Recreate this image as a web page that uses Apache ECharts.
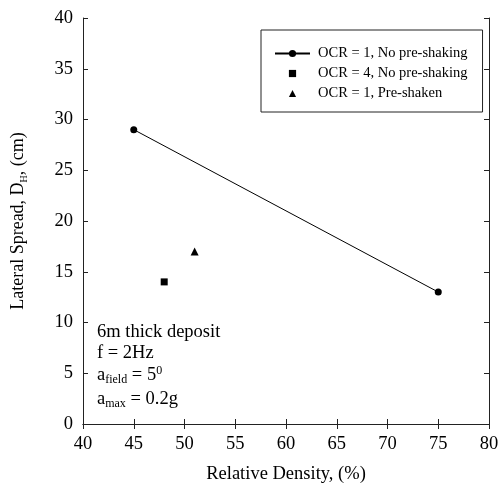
<!DOCTYPE html>
<html>
<head>
<meta charset="utf-8">
<script src="https://cdn.jsdelivr.net/npm/echarts@6/dist/echarts.min.js"></script>
<style>
  html, body { margin: 0; padding: 0; background: #fff; }
  #chart { width: 503px; height: 495px; }
</style>
</head>
<body>
<div id="chart"></div>
<script>
// 数据
const seriesNames = ['OCR = 1, No pre-shaking', 'OCR = 4, No pre-shaking', 'OCR = 1, Pre-shaken']
const ocr1NoShake = [[45, 29], [75, 13]]
const ocr4NoShake = [[48, 14]]
const ocr1Shaken = [[51, 17]]
const xTicks = [40, 45, 50, 55, 60, 65, 70, 75, 80]
const yTicks = [0, 5, 10, 15, 20, 25, 30, 35, 40]

const serif = 'Liberation Serif, Times New Roman, serif'
const black = '#000'

const myChart = echarts.init(document.getElementById('chart'))

const axisBase = (extra) => Object.assign({
  type: 'value',
  axisLine: {show: true, lineStyle: {color: '#222', width: 1}},
  axisTick: {show: true, inside: true, length: 5, lineStyle: {color: '#222'}},
  splitLine: {show: false},
}, extra)

const option = {
  animation: false,
  backgroundColor: '#fff',
  grid: {left: 83, right: 14, top: 18, bottom: 71},
  legend: {
    orient: 'vertical',
    left: 261,
    top: 30,
    align: 'left',
    padding: [16, 15, 11, 13],
    itemGap: 5,
    itemWidth: 35,
    itemHeight: 9,
    borderColor: '#222',
    borderWidth: 1,
    // 只有第一项显示连线
    data: [
      {name: seriesNames[0]},
      {name: seriesNames[1], lineStyle: {opacity: 0}},
      {name: seriesNames[2], lineStyle: {opacity: 0}},
    ],
    textStyle: {fontFamily: serif, fontSize: 14.5, color: black, padding: [0, 0, 0, 3]},
  },
  xAxis: [
    axisBase({
      min: xTicks[0], max: xTicks[xTicks.length - 1], interval: 5,
      position: 'bottom',
      name: 'Relative Density, (%)',
      nameLocation: 'middle',
      nameGap: 41,
      nameTextStyle: {fontFamily: serif, fontSize: 18.5, color: black},
      axisLabel: {margin: 11, fontFamily: serif, fontSize: 18.5, color: black},
    }),
    axisBase({
      min: xTicks[0], max: xTicks[xTicks.length - 1], interval: 5,
      position: 'top',
      axisLabel: {show: false},
    }),
  ],
  yAxis: [
    axisBase({
      min: yTicks[0], max: yTicks[yTicks.length - 1], interval: 5,
      position: 'left',
      name: 'Lateral Spread, D{sub|H}, (cm)',
      nameLocation: 'middle',
      nameGap: 54,
      nameTextStyle: {
        fontFamily: serif, fontSize: 18, color: black,
        rich: {sub: {fontFamily: serif, fontSize: 10, color: black, padding: [11, 0, 0, 0]}},
      },
      axisLabel: {margin: 10, fontFamily: serif, fontSize: 18.5, color: black},
    }),
    axisBase({
      min: yTicks[0], max: yTicks[yTicks.length - 1], interval: 5,
      position: 'right',
      axisLabel: {show: false},
    }),
  ],
  series: [
    {
      name: seriesNames[0],
      type: 'line',
      data: ocr1NoShake,
      symbol: 'circle',
      symbolSize: 7,
      lineStyle: {color: black, width: 1},
      itemStyle: {color: black},
    },
    {
      name: seriesNames[1],
      type: 'line',
      data: ocr4NoShake,
      symbol: 'rect',
      symbolSize: 7,
      lineStyle: {color: black, width: 1},
      itemStyle: {color: black},
    },
    {
      name: seriesNames[2],
      type: 'line',
      data: ocr1Shaken,
      symbol: 'triangle',
      symbolSize: 8,
      lineStyle: {color: black, width: 1},
      itemStyle: {color: black},
    },
  ],
  graphic: [
    {type: 'text', left: 97, top: 323, style: {text: '6m thick deposit', font: '18.5px ' + serif, fill: black}},
    {type: 'text', left: 97, top: 344, style: {text: 'f = 2Hz', font: '18.5px ' + serif, fill: black}},
    {
      type: 'text', left: 97, top: 365,
      style: {
        text: '{n|a}{sub|field}{n| = 5}{sup|0}',
        fill: black,
        rich: {
          n: {fontFamily: serif, fontSize: 18.5, color: black},
          sub: {fontFamily: serif, fontSize: 12, color: black, padding: [9, 0, 0, 0]},
          sup: {fontFamily: serif, fontSize: 12, color: black, padding: [0, 0, 9, 0]},
        },
      },
    },
    {
      type: 'text', left: 97, top: 390,
      style: {
        text: '{n|a}{sub|max}{n| = 0.2g}',
        fill: black,
        rich: {
          n: {fontFamily: serif, fontSize: 18.5, color: black},
          sub: {fontFamily: serif, fontSize: 12, color: black, padding: [9, 0, 0, 0]},
        },
      },
    },
  ],
}

myChart.setOption(option)
</script>
</body>
</html>
